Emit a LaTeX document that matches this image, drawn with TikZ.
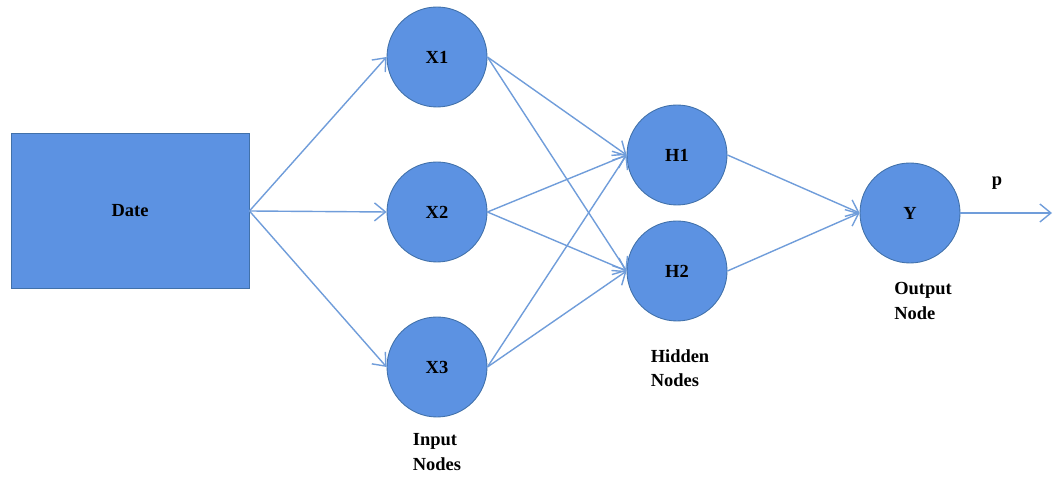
\documentclass[tikz,border=0pt]{standalone}
\usepackage{fontspec}
\setmainfont{Liberation Serif}
\usetikzlibrary{arrows.meta,positioning}
\definecolor{nodefill}{RGB}{92,146,226}
\definecolor{nodeline}{RGB}{65,113,170}
\definecolor{linkcol}{RGB}{112,157,218}
\begin{document}
\begin{tikzpicture}[
    neuron/.style={circle,fill=nodefill,draw=nodeline,line width=0.5pt,
        minimum size=2cm,inner sep=0pt,font=\bfseries\fontsize{10.5}{12}\selectfont},
    datebox/.style={rectangle,fill=nodefill,draw=nodeline,line width=0.5pt,
        minimum width=4.76cm,minimum height=3.1cm,font=\bfseries\fontsize{10.5}{12}\selectfont},
    caption/.style={align=left,font=\bfseries\fontsize{10.5}{14}\selectfont},
    link/.style={draw=linkcol,line width=0.8pt,-{Straight Barb[length=2.2mm,width=3.6mm]}}
    ]
        \useasboundingbox (0,0) rectangle (21.08,9.56);

        % input box
        \node[datebox] (date) at (2.6,5.34) {Date};

        % input layer
        \node[neuron] (x1) at (8.74,8.42) {X1};
        \node[neuron] (x2) at (8.74,5.32) {X2};
        \node[neuron] (x3) at (8.74,2.22) {X3};

        % hidden layer
        \node[neuron] (h1) at (13.54,6.46) {H1};
        \node[neuron] (h2) at (13.54,4.14) {H2};

        % output layer
        \node[neuron] (y) at (18.2,5.30) {Y};
        \coordinate (out) at (21.04,5.30);

        \foreach \i in {x1,x2,x3}
            \draw[link] (date.east) -- (\i.west);
        \foreach \i in {x1,x2,x3}
            \foreach \j in {h1,h2}
                \draw[link] (\i.east) -- (\j.west);
        \foreach \j in {h1,h2}
            \draw[link] (\j.east) -- (y.west);
        \draw[link] (y.east) -- (out);

        % labels
        \node[caption] (plabel) at (19.94,5.90) {p};
        \node[caption] (inlabel) at (8.74,0.52) {Input\\Nodes};
        \node[caption] (hidlabel) at (13.6,2.2) {Hidden\\Nodes};
        \node[caption] (outlabel) at (18.46,3.54) {Output\\Node};
\end{tikzpicture}
\end{document}
